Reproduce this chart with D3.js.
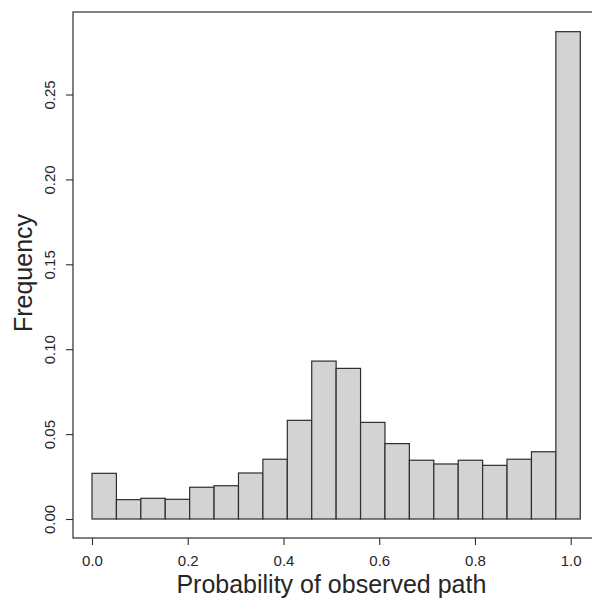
<!DOCTYPE html>
<html><head><meta charset="utf-8">
<script src="https://cdn.jsdelivr.net/npm/d3@7"></script>
<style>body{margin:0;background:#fff}svg{display:block}text{font-family:"Liberation Sans",Arial,Helvetica,sans-serif;fill:#262626}</style>
</head><body>
<script>
// Histogram bin starts (bin width ~0.051) and frequencies
const binStarts = [0.000,0.051,0.102,0.153,0.204,0.255,0.306,0.357,0.408,0.459,0.510,0.561,0.612,0.663,0.714,0.765,0.816,0.867,0.918,0.969];
const binWidth = 0.051;
const frequencies = [0.0269,0.0114,0.0122,0.0116,0.0187,0.0196,0.0271,0.0352,0.0581,0.0930,0.0887,0.0569,0.0444,0.0346,0.0324,0.0346,0.0316,0.0352,0.0396,0.2870];
const xTicks = [0.0,0.2,0.4,0.6,0.8,1.0];
const yTicks = [0.00,0.05,0.10,0.15,0.20,0.25];
const xLabel = "Probability of observed path";
const yLabel = "Frequency";

const W = 592, H = 598;
const box = {left:73, top:12, right:600, bottom:538};
const x = d3.scaleLinear().domain([0,1]).range([92, 570.7]);
const y = d3.scaleLinear().domain([0,0.25]).range([519, 94.5]);

const svg = d3.select("body").append("svg").attr("width",W).attr("height",H);

// bars
svg.append("g").selectAll("rect").data(frequencies).join("rect")
  .attr("x",(d,i)=>x(binStarts[i]))
  .attr("width",(d,i)=>x(binStarts[i]+binWidth)-x(binStarts[i]))
  .attr("y",d=>y(d))
  .attr("height",d=>y(0)-y(d))
  .attr("fill","#d3d3d3").attr("stroke","#2e2e2e").attr("stroke-width",1.2);

// frame
svg.append("rect").attr("x",box.left).attr("y",box.top)
  .attr("width",box.right-box.left).attr("height",box.bottom-box.top)
  .attr("fill","none").attr("stroke","#2e2e2e").attr("stroke-width",1.2);

// x axis
const xa = svg.append("g").attr("transform",`translate(0,${box.bottom})`)
  .call(d3.axisBottom(x).tickValues(xTicks).tickFormat(d3.format(".1f")).tickSize(7).tickPadding(10));
xa.select(".domain").remove();
xa.selectAll("line").attr("stroke","#2e2e2e").attr("stroke-width",1.1);
xa.selectAll("text").style("font-size","15px").style("font-family","Liberation Sans, Arial, sans-serif").attr("fill","#262626");

// y axis
const ya = svg.append("g").attr("transform",`translate(${box.left},0)`)
  .call(d3.axisLeft(y).tickValues(yTicks).tickFormat(d3.format(".2f")).tickSize(7).tickPadding(0));
ya.select(".domain").remove();
ya.selectAll("line").attr("stroke","#2e2e2e").attr("stroke-width",1.1);
ya.selectAll("text").style("font-size","15px").style("font-family","Liberation Sans, Arial, sans-serif").attr("fill","#262626")
  .attr("x",0).attr("y",0).attr("dy",null)
  .attr("text-anchor","middle")
  .attr("transform","translate(-18,0) rotate(-90)");

// axis titles
svg.append("text").attr("x",x(0.5)).attr("y",593).attr("text-anchor","middle")
  .style("font-size","25px").text(xLabel);
svg.append("text").attr("transform",`translate(32,${(box.top+box.bottom)/2 - 2}) rotate(-90)`)
  .attr("text-anchor","middle").style("font-size","25px").text(yLabel);
</script>
</body></html>
